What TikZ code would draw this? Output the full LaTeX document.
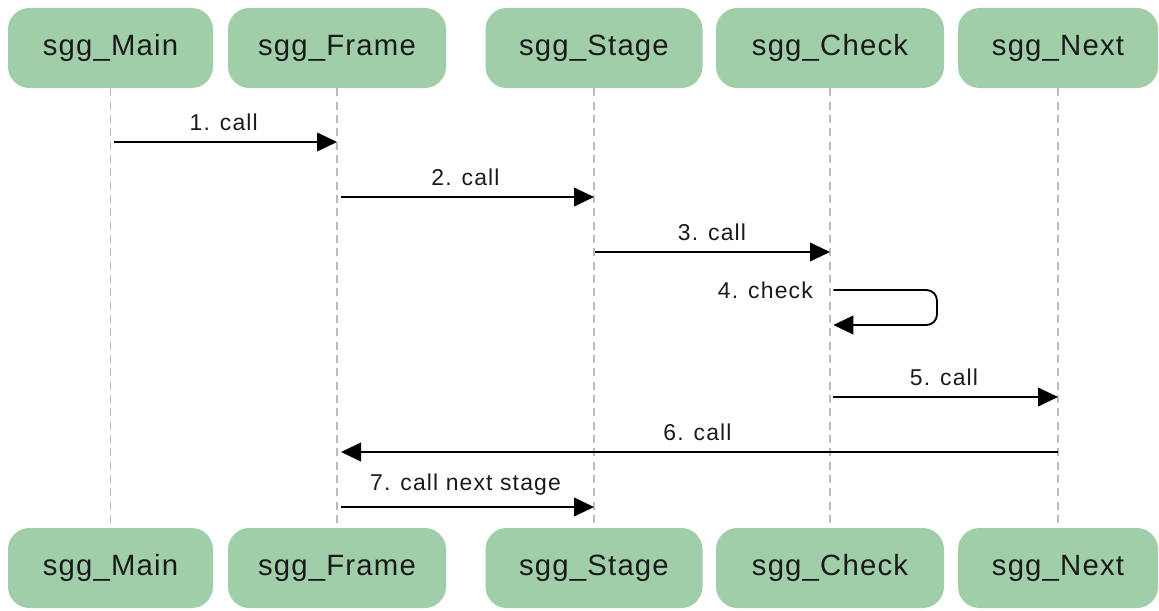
\documentclass[tikz,border=0pt]{standalone}
\usepackage{fontspec}
\setmainfont{Liberation Sans}
\newfontfamily\boxfont[LetterSpace=4]{Liberation Sans}
\newfontfamily\labfont[LetterSpace=5]{Liberation Sans}
\usetikzlibrary{arrows.meta,calc}
\definecolor{boxgreen}{HTML}{9FCEA9}
\definecolor{txt}{HTML}{1A1A1A}
\definecolor{life}{HTML}{BBBBBB}
\tikzset{
  actor/.style={rectangle, rounded corners=16pt, fill=boxgreen, text=txt,
    minimum height=60pt, font=\boxfont\fontsize{22pt}{24pt}\selectfont, inner sep=0pt},
  lifeline/.style={draw=life, dashed, dash pattern=on 6pt off 4pt, line width=0.8pt},
  msg/.style={draw=black, line width=1.4pt, -{Triangle[length=15pt,width=14pt]}},
  lab/.style={font=\labfont\fontsize{17.2pt}{19pt}\selectfont, text=txt, inner sep=0pt}
}
\begin{document}
\begin{tikzpicture}[x=0.75pt,y=-0.75pt]
\useasboundingbox (0,0) rectangle (1159,610);
% top actors
\node[actor, minimum width=153.75pt] (mainT)  at (110.5,48) {sgg\_Main};
\node[actor, minimum width=163.5pt]  (frameT) at (337,48) {sgg\_Frame};
\node[actor, minimum width=162.75pt] (stageT) at (594,48) {sgg\_Stage};
\node[actor, minimum width=171pt]    (checkT) at (830,48) {sgg\_Check};
\node[actor, minimum width=150pt]    (nextT)  at (1058,48) {sgg\_Next};
% bottom actors
\node[actor, minimum width=153.75pt] (mainB)  at (110.5,568) {sgg\_Main};
\node[actor, minimum width=163.5pt]  (frameB) at (337,568) {sgg\_Frame};
\node[actor, minimum width=162.75pt] (stageB) at (594,568) {sgg\_Stage};
\node[actor, minimum width=171pt]    (checkB) at (830,568) {sgg\_Check};
\node[actor, minimum width=150pt]    (nextB)  at (1058,568) {sgg\_Next};
% lifelines
\foreach \n in {main,frame,stage,check,next}
  \draw[lifeline] (\n T.south) -- (\n B.north);
% coordinates on lifelines
\coordinate (y1) at (0,142);
\coordinate (y2) at (0,197);
\coordinate (y3) at (0,252);
\coordinate (y4a) at (0,290);
\coordinate (y4b) at (0,325);
\coordinate (y5) at (0,397);
\coordinate (y6) at (0,452);
\coordinate (y7) at (0,507);
% messages
\draw[msg, shorten <=2.5pt] (mainT.south |- y1) -- (frameT.south |- y1)
  node[lab, midway, above=8pt] {1. call};
\draw[msg, shorten <=3pt] (frameT.south |- y2) -- (stageT.south |- y2)
  node[lab, midway, above=8pt] {2. call};
\draw[msg, shorten <=1pt] (stageT.south |- y3) -- (checkT.south |- y3)
  node[lab, midway, above=8pt] {3. call};
\coordinate (loopR) at ($(checkT.south |- y4a)+(107,0)$);
\draw[msg, rounded corners=8pt, shorten <=2.5pt, shorten >=2.5pt] (checkT.south |- y4a) -- (loopR) -- (loopR |- y4b) -- (checkT.south |- y4b);
\node[lab, anchor=east] (l4) at ($(checkT.south |- y4a)+(-17,0)$) {4. check};
\draw[msg, shorten <=2.5pt] (checkT.south |- y5) -- (nextT.south |- y5)
  node[lab, midway, above=8pt] {5. call};
\draw[msg, shorten >=3pt] (nextT.south |- y6) -- (frameT.south |- y6)
  node[lab, midway, above=8pt] {6. call};
\draw[msg, shorten <=3pt] (frameT.south |- y7) -- (stageT.south |- y7)
  node[lab, midway, above=8pt] {7. call next stage};
\end{tikzpicture}
\end{document}
